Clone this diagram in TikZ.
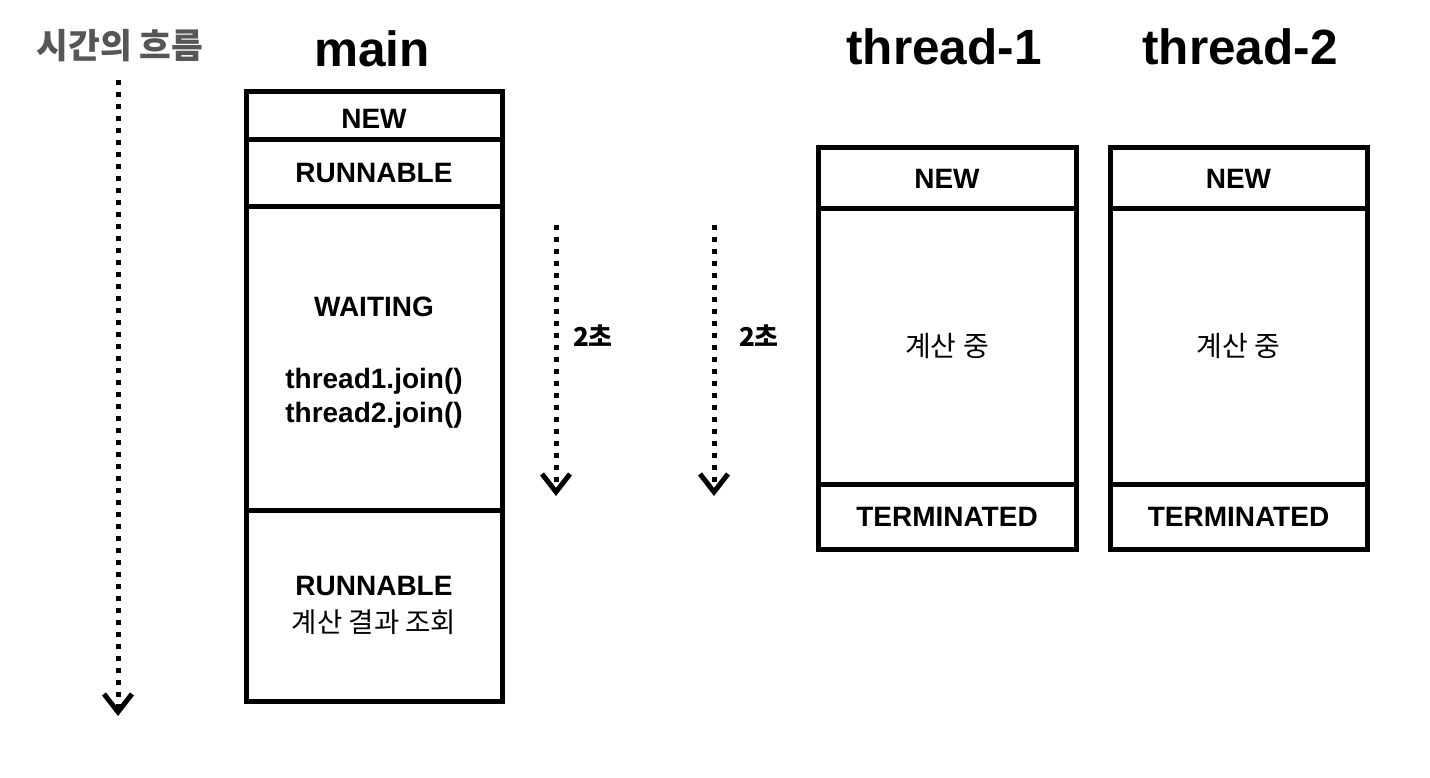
\documentclass[tikz,border=0pt]{standalone}
\usepackage{fontspec}
\setmainfont{Liberation Sans}
\newfontfamily\kr{Noto Sans CJK KR}
\usetikzlibrary{arrows.meta}
\definecolor{titlegray}{HTML}{565656}
\begin{document}
\begin{tikzpicture}[x=1pt,y=-1pt,
  cellfont/.style={inner sep=0pt,align=center,font=\fontsize{28}{34}\selectfont\bfseries},
  cell/.style={cellfont,draw=black,line width=5pt},
  krtext/.style={font=\kr\fontsize{28}{34}\selectfont},
  ttl/.style={font=\fontsize{49.5}{56}\selectfont\bfseries,anchor=base},
  flow/.style={line width=5pt,dash pattern=on 5pt off 7pt,
    -{Straight Barb[length=18pt,width=28pt,line width=5pt]}},
  secs/.style={font=\kr\bfseries\fontsize{26}{30}\selectfont}]
\useasboundingbox (0,0) rectangle (1430,778);
% titles
\node[font=\kr\bfseries\fontsize{34.5}{40}\selectfont,text=titlegray] (ttime) at (120,46) {시간의 흐름};
\node[ttl] (tmain) at (372,67) {main};
\node[ttl] (tth1) at (944,65) {thread-1};
\node[ttl] (tth2) at (1240,65) {thread-2};
% main column
\node[cell,minimum width=256pt,minimum height=48pt,text height=25pt] (mnew) at (374,116) {NEW};
\node[cell,minimum width=256pt,minimum height=67pt] (mrun) at (374,173.5) {RUNNABLE};
\node[cell,minimum width=256pt,minimum height=303pt] (mwait) at (374,358.5) {};
\node[cellfont] (mwaitt) at (374,363) {WAITING\\[38pt]thread1.join()\\thread2.join()};
\node[cell,minimum width=256pt,minimum height=191pt] (mres) at (374,605.5)
  {RUNNABLE\\[3pt]{\kr\mdseries\fontsize{27.5}{34}\selectfont 계산 결과 조회}};
% thread-1 column
\node[cell,minimum width=258pt,minimum height=61pt] (anew) at (947,178.5) {NEW};
\node[cell,minimum width=258pt,minimum height=275pt,krtext] (acalc) at (947,346.5) {계산 중};
\node[cell,minimum width=258pt,minimum height=65pt] (aterm) at (947,516.5) {TERMINATED};
% thread-2 column
\node[cell,minimum width=257pt,minimum height=61pt] (bnew) at (1238.5,178.5) {NEW};
\node[cell,minimum width=257pt,minimum height=275pt,krtext] (bcalc) at (1238.5,346.5) {계산 중};
\node[cell,minimum width=257pt,minimum height=65pt] (bterm) at (1238.5,516.5) {TERMINATED};
% arrows
\coordinate (ts) at (118,80);
\coordinate (te) at (118,716);
\draw[flow] (ts) -- (te);
\coordinate (as) at (556,225);
\coordinate (ae) at (556,496);
\draw[flow] (as) -- (ae);
\coordinate (bs) at (714,225);
\coordinate (be) at (714,496);
\draw[flow] (bs) -- (be);
\node[secs] (la) at (593,336) {2초};
\node[secs] (lb) at (759,336) {2초};
\end{tikzpicture}
\end{document}
